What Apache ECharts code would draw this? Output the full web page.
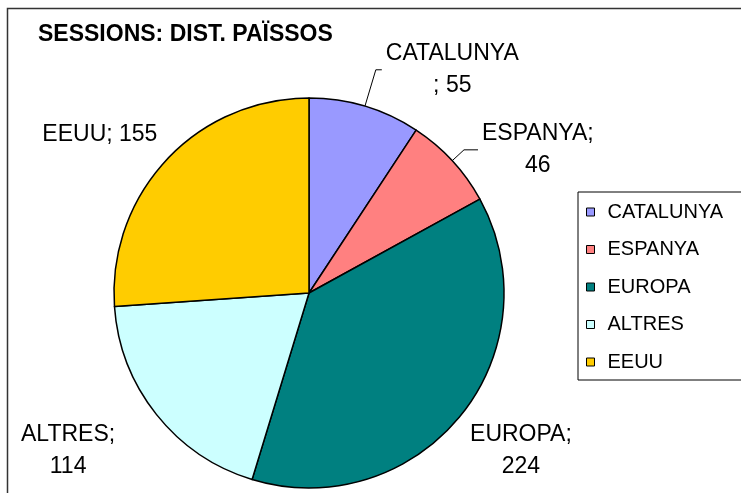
<!DOCTYPE html>
<html>
<head>
<meta charset="utf-8">
<script src="https://cdn.jsdelivr.net/npm/echarts@6/dist/echarts.min.js"></script>
<style>
  html, body { margin: 0; padding: 0; background: #fff; }
  #main { width: 741px; height: 493px; }
</style>
</head>
<body>
<div id="main"></div>
<script>
// dades
var categories = ['CATALUNYA', 'ESPANYA', 'EUROPA', 'ALTRES', 'EEUU'];
var sessions = [55, 46, 224, 114, 155];
var colors = ['#9999ff', '#ff8080', '#008080', '#ccffff', '#ffcc00'];

// on es parteix l'etiqueta (com ho fa l'Excel)
var labelWrap = ['before', 'after', 'after', 'after', 'none'];
var lineLen = [38, 16, 55, 59, 37];
var lineLen2 = [6, 14, 0, 0, 0];
var lineShow = [true, true, false, false, false];
var labelNudge = [0, 0, -37, 9, 22];

var FONT = 'Liberation Sans, Arial, sans-serif';
var myChart = echarts.init(document.getElementById('main'));

var data = categories.map(function (name, i) {
    return {
        name: name,
        value: sessions[i],
        itemStyle: { color: colors[i] },
        labelLine: { show: lineShow[i], length: lineLen[i], length2: lineLen2[i] }
    };
});

var option = {
    backgroundColor: '#fff',
    animation: false,
    graphic: [{
        type: 'rect',
        shape: { x: 7.5, y: 8.5, width: 760, height: 520 },
        style: { fill: 'none', stroke: '#333', lineWidth: 1.5 },
        silent: true
    }],
    title: {
        text: 'SESSIONS: DIST. PAÏSSOS',
        left: 38,
        top: 23,
        padding: 0,
        textStyle: { fontFamily: FONT, fontSize: 23, fontWeight: 'bold', color: '#000' }
    },
    legend: {
        orient: 'vertical',
        left: 578,
        top: 192,
        padding: [10, 30, 8, 8],
        itemWidth: 8,
        itemHeight: 8,
        itemGap: 17.5,
        icon: 'rect',
        borderColor: '#000',
        borderWidth: 1,
        itemStyle: { borderColor: '#000', borderWidth: 1 },
        textStyle: {
            fontFamily: FONT, fontSize: 20, lineHeight: 20, color: '#000',
            padding: [0, 0, 0, 8]
        },
        data: categories
    },
    series: [{
        name: 'SESSIONS',
        type: 'pie',
        center: [309, 293],
        radius: 195,
        startAngle: 90,
        clockwise: true,
        avoidLabelOverlap: false,
        itemStyle: { borderColor: '#000', borderWidth: 1.5 },
        emphasis: { disabled: true },
        label: {
            show: true,
            position: 'outside',
            distanceToLabelLine: 4,
            formatter: function (p) {
                var w = labelWrap[p.dataIndex];
                var txt;
                if (w === 'before') txt = p.name + '}\n{c|; ' + p.value;
                else if (w === 'after') txt = p.name + ';}\n{c|' + p.value;
                else txt = p.name + '; ' + p.value;
                return '{c|' + txt + '}';
            },
            rich: {
                c: { fontFamily: FONT, fontSize: 23, lineHeight: 32, color: '#000', align: 'center' }
            }
        },
        labelLine: {
            lineStyle: { color: '#000', width: 1 }
        },
        labelLayout: function (params) {
            var d = labelNudge[params.dataIndex];
            if (!d) return;
            return { dx: d };
        },
        data: data
    }]
};

myChart.setOption(option);
</script>
</body>
</html>
